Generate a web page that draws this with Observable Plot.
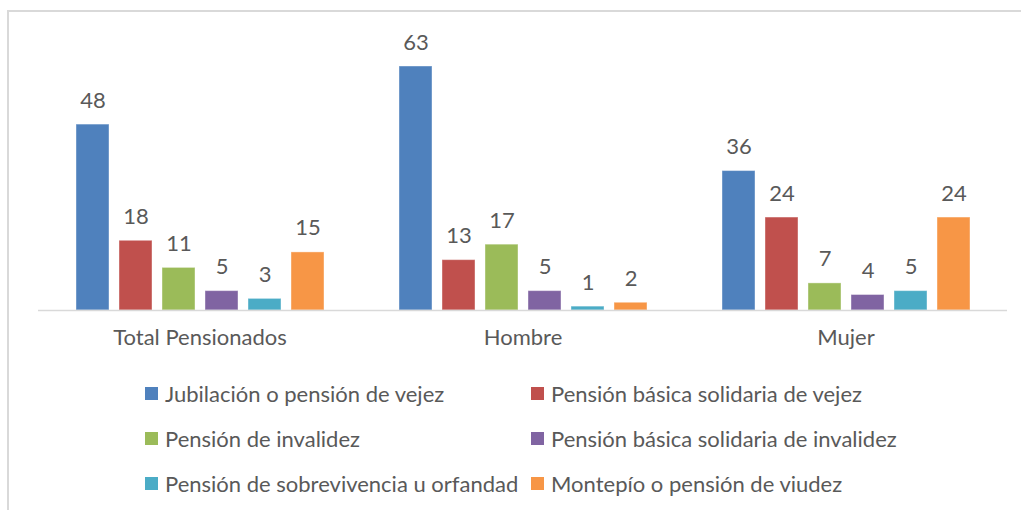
<!DOCTYPE html>
<html>
<head>
<meta charset="utf-8">
<script src="https://cdn.jsdelivr.net/npm/d3@7"></script>
<script src="https://cdn.jsdelivr.net/npm/@observablehq/plot@0.6"></script>
<style>
  html, body { margin: 0; padding: 0; background: #fff; }
  #wrap { position: relative; width: 1021px; height: 510px; overflow: hidden; background: #fff; font-family: Lato, "Open Sans", sans-serif; }
  #frame { position: absolute; left: 7px; top: 10px; right: -5px; bottom: -5px; border-left: 2px solid #d9d9d9; border-top: 2px solid #d9d9d9; }
  #chart { position: absolute; left: 0; top: 0; }
  #legend { position: absolute; left: 0; top: 0; width: 1021px; height: 510px; }
  .item { position: absolute; display: flex; align-items: center; height: 30px; font-size: 22px; color: #595959; white-space: nowrap; }
  .sw { width: 13px; height: 13px; margin-right: 7px; flex: none; }
</style>
</head>
<body>
<div id="wrap">
  <div id="frame"></div>
  <div id="chart"></div>
  <div id="legend"></div>
</div>
<script>
const groups = ["Total Pensionados", "Hombre", "Mujer"];
const series = [
  "Jubilación o pensión de vejez",
  "Pensión básica solidaria de vejez",
  "Pensión de invalidez",
  "Pensión básica solidaria de invalidez",
  "Pensión de sobrevivencia u orfandad",
  "Montepío o pensión de viudez"
];
const colors = ["#4F81BD", "#C0504D", "#9BBB59", "#8064A2", "#4BACC6", "#F79646"];
const totalValues = [48, 18, 11, 5, 3, 15];
const hombreValues = [63, 13, 17, 5, 1, 2];
const mujerValues = [36, 24, 7, 4, 5, 24];

const valuesByGroup = [totalValues, hombreValues, mujerValues];
const data = [];
groups.forEach((g, gi) => {
  series.forEach((s, si) => {
    data.push({group: g, series: s, value: valuesByGroup[gi][si]});
  });
});

const chart = Plot.plot({
  width: 1021,
  height: 360,
  marginLeft: 38,
  marginRight: 14,
  marginTop: 66,
  marginBottom: 50,
  style: {fontFamily: "Lato, 'Open Sans', sans-serif", background: "transparent", color: "#595959"},
  fx: {domain: groups, padding: 0, label: null},
  x: {domain: series, paddingInner: 0.233, paddingOuter: 0.87, axis: null},
  y: {domain: [0, 63], axis: null},
  color: {domain: series, range: colors},
  marks: [
    Plot.barY(data, {fx: "group", x: "series", y: "value", fill: "series", stroke: "#fff", strokeOpacity: 0.4, strokeWidth: 1}),
    Plot.ruleY([0], {stroke: "#d9d9d9", strokeWidth: 1.5}),
    Plot.text(data, {fx: "group", x: "series", y: "value", text: d => String(d.value), dy: -24, fontSize: 22, fill: "#595959"}),
    Plot.axisFx({anchor: "bottom", tickSize: 0, tickPadding: 19, fontSize: 22, label: null, fill: "#595959"})
  ]
});
document.getElementById("chart").appendChild(chart);

const legend = document.getElementById("legend");
const colX = [145, 531];
const rowY = [393.5, 438.5, 483.5];
series.forEach((s, i) => {
  const item = document.createElement("div");
  item.className = "item";
  item.style.left = colX[i % 2] + "px";
  item.style.top = (rowY[Math.floor(i / 2)] - 15) + "px";
  const sw = document.createElement("span");
  sw.className = "sw";
  sw.style.background = colors[i];
  const t = document.createElement("span");
  t.textContent = s;
  item.appendChild(sw);
  item.appendChild(t);
  legend.appendChild(item);
});
</script>
</body>
</html>
